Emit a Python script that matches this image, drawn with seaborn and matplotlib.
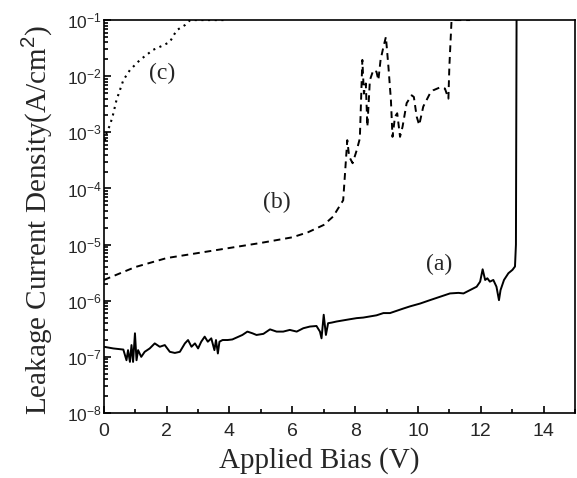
import numpy as np
import pandas as pd
import matplotlib
matplotlib.use("Agg")
import matplotlib.pyplot as plt
from matplotlib.ticker import LogLocator, MultipleLocator, NullFormatter
import seaborn as sns

# --- data (current density given as log10 exponents) ---

# (a) solid curve
a_bias = [0.00, 0.30, 0.62, 0.72, 0.77, 0.83, 0.88, 0.93, 0.99, 1.04, 1.09, 1.19,
          1.30, 1.46, 1.62, 1.78, 1.94, 2.10, 2.26, 2.42, 2.58, 2.68, 2.79, 2.90,
          3.00, 3.10, 3.21, 3.31, 3.42, 3.52, 3.57, 3.63, 3.68, 3.78, 3.94, 4.09,
          4.25, 4.41, 4.57, 4.73, 4.86, 5.08, 5.29, 5.50, 5.71, 5.92, 6.14, 6.35,
          6.56, 6.77, 6.88, 6.93, 7.00, 7.07, 7.14, 7.25, 7.41, 7.62, 7.83, 8.05,
          8.26, 8.47, 8.68, 8.90, 9.11, 9.32, 9.53, 9.75, 10.07, 10.38, 10.70, 11.02,
          11.29, 11.45, 11.66, 11.87, 11.98, 12.06, 12.14, 12.21, 12.29, 12.40, 12.50,
          12.58, 12.63, 12.74, 12.88, 13.01, 13.09, 13.12, 13.14]
a_exp = [-6.82, -6.85, -6.87, -7.06, -6.88, -7.09, -6.79, -7.09, -6.58, -7.06, -6.88, -7.00,
         -6.91, -6.85, -6.76, -6.82, -6.79, -6.91, -6.93, -6.91, -6.76, -6.70, -6.82, -6.76,
         -6.85, -6.73, -6.64, -6.73, -6.67, -6.88, -6.70, -6.94, -6.73, -6.70, -6.70, -6.69,
         -6.65, -6.61, -6.55, -6.58, -6.61, -6.59, -6.51, -6.55, -6.55, -6.52, -6.55, -6.49,
         -6.46, -6.45, -6.55, -6.67, -6.25, -6.61, -6.40, -6.39, -6.37, -6.35, -6.33, -6.31,
         -6.30, -6.28, -6.26, -6.22, -6.22, -6.18, -6.14, -6.10, -6.05, -5.99, -5.93, -5.87,
         -5.86, -5.87, -5.81, -5.75, -5.66, -5.44, -5.63, -5.60, -5.66, -5.63, -5.75,
         -5.99, -5.81, -5.63, -5.51, -5.45, -5.39, -5.00, -1.00]

# (b) dashed curve
b_bias = [0.00, 1.00, 2.00, 3.00, 4.00, 5.00, 6.00, 6.50, 7.00, 7.30, 7.62, 7.75,
          7.81, 7.92, 8.05, 8.15, 8.23, 8.28, 8.34, 8.39, 8.47, 8.58, 8.68, 8.74,
          8.81, 8.90, 8.98, 9.06, 9.14, 9.19, 9.27, 9.34, 9.43, 9.51, 9.64, 9.80,
          9.87, 9.96, 10.04, 10.17, 10.38, 10.49, 10.70, 10.86, 10.97, 11.00, 11.07, 11.66]
b_exp = [-5.63, -5.40, -5.24, -5.15, -5.06, -4.97, -4.87, -4.78, -4.65, -4.50, -4.21, -3.14,
         -3.43, -3.55, -3.32, -3.11, -1.71, -2.31, -2.13, -2.90, -2.07, -1.89, -1.92, -2.07,
         -1.71, -1.48, -1.30, -1.83, -2.43, -3.08, -2.72, -2.66, -3.08, -2.90, -2.48, -2.34,
         -2.37, -2.72, -2.87, -2.54, -2.31, -2.25, -2.20, -2.22, -2.40, -1.83, -1.00, -1.00]

# (c) dotted curve
c_bias = [0.03, 0.10, 0.19, 0.29, 0.40, 0.62, 0.83, 1.15, 1.57, 1.89, 2.10, 2.32,
          2.58, 2.69, 2.75, 3.90]
c_exp = [-3.15, -2.98, -2.88, -2.69, -2.43, -2.07, -1.89, -1.71, -1.53, -1.45, -1.39, -1.18,
         -1.09, -1.03, -1.00, -1.00]

labels = ["(a)", "(b)", "(c)"]
label_bias = [10.67, 5.50, 1.85]
label_exp = [-5.35, -4.25, -1.95]

y_ticks_exp = [-8, -7, -6, -5, -4, -3, -2, -1]

# --- plot ---
sns.set_style("ticks")
plt.rcParams['font.family'] = ['Liberation Sans', 'DejaVu Sans']
plt.rcParams['mathtext.fontset'] = 'custom'
plt.rcParams['mathtext.rm'] = 'Liberation Sans'
plt.rcParams['mathtext.it'] = 'Liberation Sans:italic'

fig = plt.figure(figsize=(5.77, 4.78), dpi=100)
ax = fig.add_axes([0.180, 0.136, 0.8165, 0.822])

curves = [(a_bias, a_exp, "-", 1.4),
          (b_bias, b_exp, (0, (3.5, 2.5)), 1.4),
          (c_bias, c_exp, (0, (1, 2.2)), 1.5)]
for xs, es, ls, lw in curves:
    df = pd.DataFrame({"bias": xs, "J": np.power(10.0, es)})
    sns.lineplot(data=df, x="bias", y="J", ax=ax, color="black", linestyle=ls,
                 linewidth=lw, estimator=None, sort=False)

for lab, xb, ye in zip(labels, label_bias, label_exp):
    ax.text(xb, 10.0 ** ye, lab, fontsize=17, family="Liberation Serif",
            ha="center", va="center")

ax.set_yscale("log")
ax.set_xlim(0, 15)
ax.set_ylim(1e-8, 1e-1)
ax.xaxis.set_major_locator(MultipleLocator(2))
ax.xaxis.set_minor_locator(MultipleLocator(1))
ax.set_yticks([10.0 ** e for e in y_ticks_exp])
ax.yaxis.set_minor_locator(LogLocator(base=10, subs=np.arange(2, 10)))
ax.yaxis.set_minor_formatter(NullFormatter())
ax.tick_params(axis="both", which="both", direction="in", top=False, right=False,
               color="black", width=1.2)
ax.tick_params(axis="both", which="major", length=5)
ax.tick_params(axis="both", which="minor", length=3)
ax.tick_params(axis="x", labelsize=14, pad=7)
ax.tick_params(axis="y", labelsize=12.5, pad=1.5)
for s in ax.spines.values():
    s.set_linewidth(1.2)
    s.set_color("black")

ax.set_xlabel("")
ax.set_ylabel("")
fig.text(319 / 577, 1 - 447 / 478, "Applied Bias (V)", fontsize=21,
         family="Liberation Serif", ha="center", va="top")
fig.text(19 / 577, 1 - 220 / 478, "Leakage Current Density(A/cm$^2$)", fontsize=21,
         family="Liberation Serif", rotation=90, ha="left", va="center")

fig.savefig("out.png", dpi=100)
